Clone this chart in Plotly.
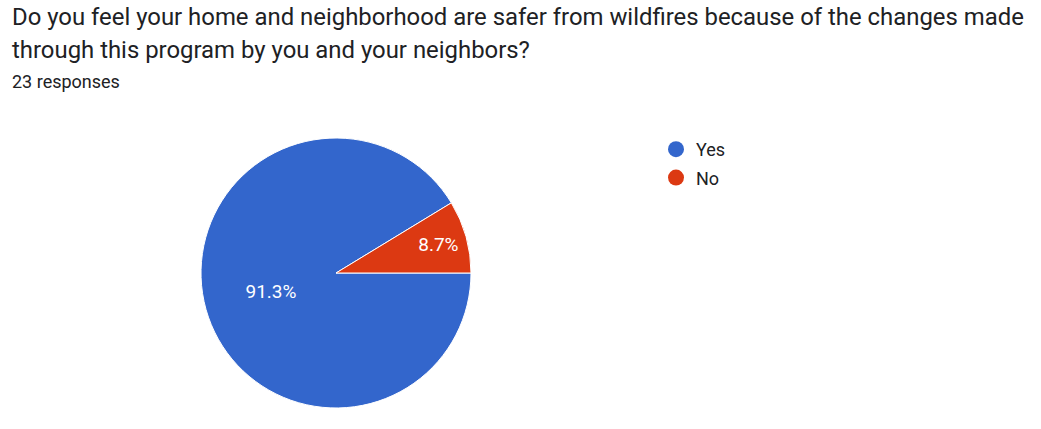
import plotly.graph_objects as go

title_lines = [
    "Do you feel your home and neighborhood are safer from wildfires because of the changes made",
    "through this program by you and your neighbors?",
]
subtitle = "23 responses"
categories = ["Yes", "No"]
counts = [21, 2]
colors = ["#3366cc", "#dc3912"]

W, H = 1041, 429
cx, cy, r = 336, 273, 135

fig = go.Figure()
fig.add_trace(go.Pie(
    labels=categories,
    values=counts,
    sort=False,
    direction="clockwise",
    rotation=90,
    marker=dict(colors=colors, line=dict(color="white", width=1)),
    texttemplate="%{percent:.1%}",
    textposition="inside",
    insidetextorientation="horizontal",
    textfont=dict(family="Roboto", size=19, color="white"),
    showlegend=False,
    hoverinfo="label+percent",
    domain=dict(x=[(cx - r) / W, (cx + r) / W], y=[1 - (cy + r) / H, 1 - (cy - r) / H]),
))
for cat, col in zip(categories, colors):
    fig.add_trace(go.Scatter(
        x=[None], y=[None], mode="markers", name=cat, legendgroup=cat,
        marker=dict(color=col, size=18, symbol="circle"),
    ))

annotations = []
for i, line in enumerate(title_lines):
    annotations.append(dict(
        text=line, xref="paper", yref="paper", x=10 / W, y=1 - (17 + 33 * i) / H,
        xanchor="left", yanchor="middle", showarrow=False,
        font=dict(family="Roboto", size=23.9, color="#202124"),
    ))
annotations.append(dict(
    text=subtitle, xref="paper", yref="paper", x=10 / W, y=1 - 82 / H,
    xanchor="left", yanchor="middle", showarrow=False,
    font=dict(family="Roboto", size=18, color="#202124"),
))

fig.update_layout(
    width=W, height=H,
    margin=dict(l=0, r=0, t=0, b=0),
    paper_bgcolor="white", plot_bgcolor="white",
    xaxis=dict(visible=False), yaxis=dict(visible=False),
    legend=dict(x=656 / W, y=1 - 131 / H, xanchor="left", yanchor="top",
                font=dict(family="Roboto", size=18, color="#202124"),
                bgcolor="rgba(0,0,0,0)", traceorder="grouped", tracegroupgap=2),
    annotations=annotations,
)
fig.write_html("out.html", config={"displayModeBar": False},
               post_script="document.body.style.margin='0';")
